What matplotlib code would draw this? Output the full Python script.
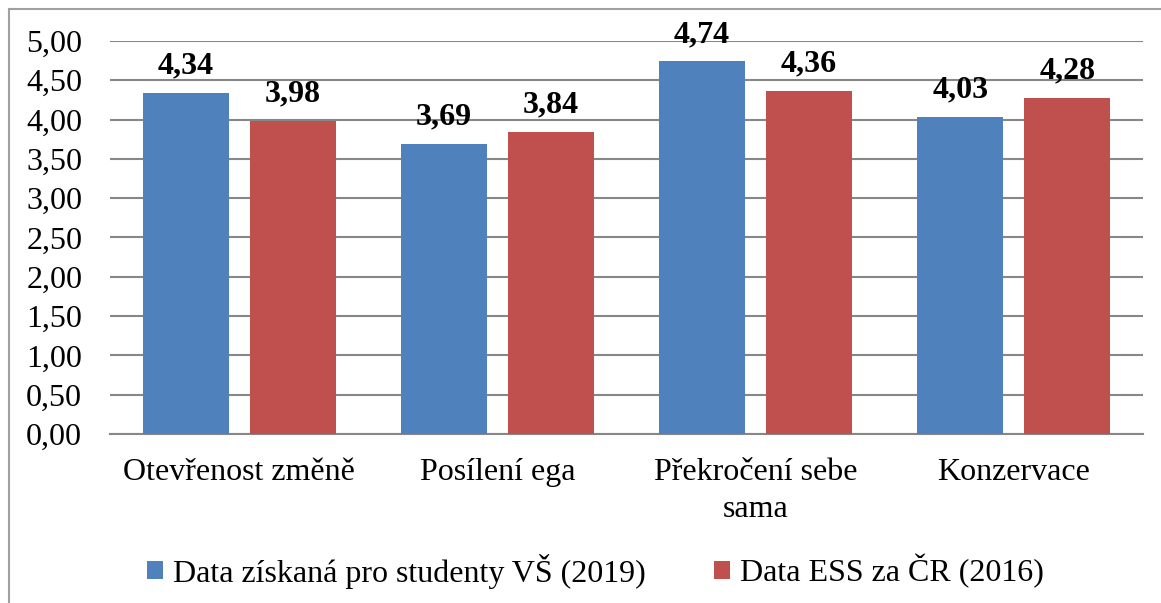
import numpy as np
import matplotlib
matplotlib.use('Agg')
import matplotlib.pyplot as plt
from matplotlib.lines import Line2D

# Data
categories = ['Otevřenost změně', 'Posílení ega', 'Překročení sebe\nsama', 'Konzervace']
students_2019 = [4.34, 3.69, 4.74, 4.03]
ess_2016 = [3.98, 3.84, 4.36, 4.28]
series_names = ['Data získaná pro studenty VŠ (2019)', 'Data ESS za ČR (2016)']
y_ticks = [0.0, 0.5, 1.0, 1.5, 2.0, 2.5, 3.0, 3.5, 4.0, 4.5, 5.0]

BLUE = '#4F81BD'
RED = '#C0504D'
GRID = '#878787'
FS = 23

plt.rcParams['font.family'] = ['Liberation Serif', 'DejaVu Serif']

fig = plt.figure(figsize=(11.61, 6.03), dpi=100)
ax = fig.add_axes([0.0947, 0.2803, 0.8898, 0.6517])

x = np.arange(len(categories))
width = 0.333
offset = 0.207

bars1 = ax.bar(x - offset, students_2019, width, color=BLUE, label=series_names[0], zorder=3)
bars2 = ax.bar(x + offset, ess_2016, width, color=RED, label=series_names[1], zorder=3)

def fmt(v):
    return f'{v:.2f}'.replace('.', ',')

for bars, vals in [(bars1, students_2019), (bars2, ess_2016)]:
    for b, v in zip(bars, vals):
        ax.annotate(fmt(v), (b.get_x() + b.get_width() / 2, v),
                    xytext=(0, 9), textcoords='offset points',
                    ha='center', va='bottom', fontsize=FS, fontweight='bold')

ax.set_xlim(-0.5, len(categories) - 0.5)
ax.set_ylim(0, 5)
ax.set_yticks(y_ticks)
ax.set_yticklabels([fmt(t) for t in y_ticks], fontsize=FS)
ax.set_xticks(x)
ax.set_xticklabels(categories, fontsize=FS, linespacing=1.4)
ax.tick_params(axis='x', length=0, pad=17)
ax.tick_params(axis='y', length=0, pad=20)

for s in ['top', 'right', 'left']:
    ax.spines[s].set_visible(False)
ax.spines['bottom'].set_color(GRID)
ax.spines['bottom'].set_linewidth(1.5)
ax.yaxis.grid(True, color=GRID, linewidth=1.5, zorder=0)
ax.set_axisbelow(True)

fig.legend(handles=[bars1, bars2], labels=series_names, loc='center',
           bbox_to_anchor=(0.513, 0.053), ncol=2, frameon=False, fontsize=FS,
           handlelength=0.5, handleheight=0.5, handletextpad=0.3, columnspacing=2.15)

# outer chart border (left and top visible)
fig.add_artist(Line2D([0.0078, 0.0078], [0, 0.985], color='#A0A0A0', linewidth=1.5, transform=fig.transFigure))
fig.add_artist(Line2D([0.0078, 1.0], [0.985, 0.985], color='#A0A0A0', linewidth=1.5, transform=fig.transFigure))

plt.savefig('out.png', dpi=100)
plt.close()
